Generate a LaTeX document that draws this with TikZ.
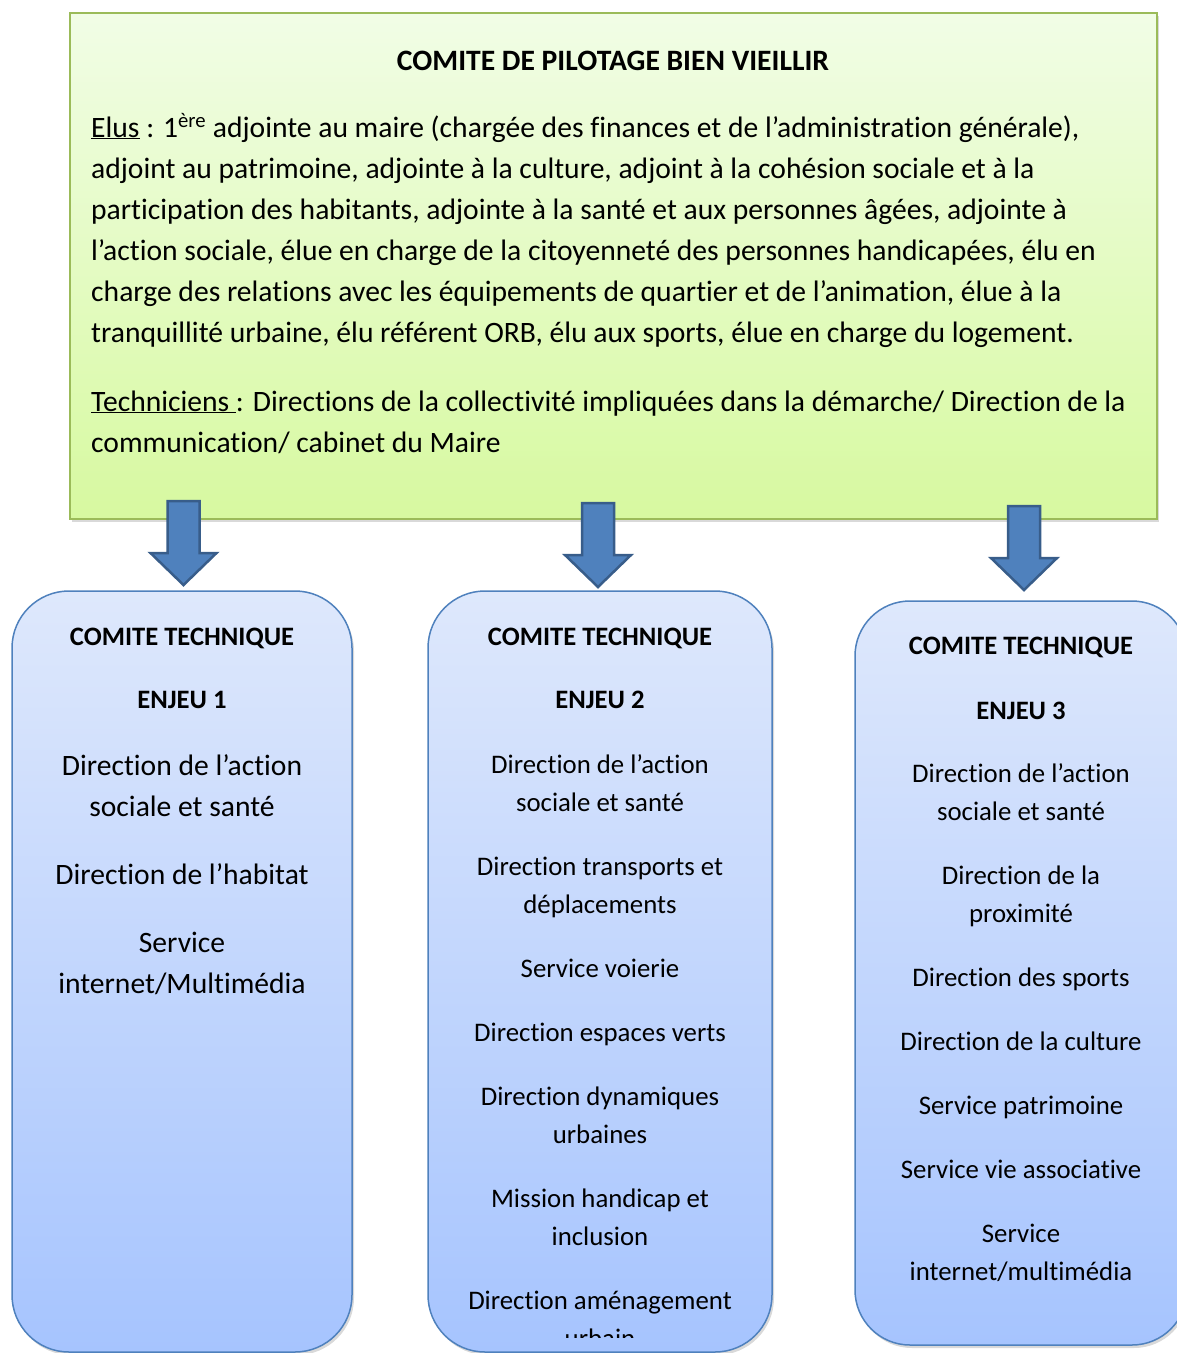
\documentclass[tikz,border=0pt]{standalone}
\usepackage{fontspec}
\setmainfont{Carlito}[Ligatures=NoCommon]
\usetikzlibrary{shadows}
\definecolor{pilottop}{HTML}{F1FDE6}
\definecolor{pilotbot}{HTML}{D7F9A0}
\definecolor{pilotline}{HTML}{9BBB59}
\definecolor{cttop}{HTML}{DEE8FC}
\definecolor{ctbot}{HTML}{A6C4FE}
\definecolor{ctline}{HTML}{4F81BD}
\definecolor{arrowfill}{HTML}{4F81BD}
\definecolor{arrowline}{HTML}{385D8A}
\begin{document}
\begin{tikzpicture}[x=1pt,y=-1pt,
  pilot/.style={draw=pilotline,line width=1.5pt,top color=pilottop,bottom color=pilotbot,
    drop shadow={shadow xshift=2pt,shadow yshift=-3pt,opacity=.3}},
  comite/.style={draw=ctline,line width=1.5pt,rounded corners=57pt,top color=cttop,bottom color=ctbot,
    drop shadow={shadow xshift=2pt,shadow yshift=-3pt,opacity=.3}},
  blockarrow/.style={fill=arrowfill,draw=arrowline,line width=2.5pt},
  gros/.style={font=\fontsize{29.6}{41}\selectfont,inner sep=0},
  moyen/.style={font=\fontsize{26.8}{38}\selectfont,inner sep=0},
  entete/.style={font=\fontsize{26.6}{63}\selectfont\bfseries,inner sep=0}]
\useasboundingbox (0,0) rectangle (1177,1353);
% comite de pilotage
\node[pilot,minimum width=1087pt,minimum height=506pt,inner sep=0] (pilot) at (613.5,266) {};
\node[font=\fontsize{29.6}{30}\selectfont\bfseries,anchor=base,inner sep=0] (titre) at (613,70) {COMITE DE PILOTAGE BIEN VIEILLIR};
\node[gros,align=left,anchor=base west] (elus) at (91,342) {\underline{Elus} : 1\textsuperscript{ère} adjointe au maire (chargée des finances et de l’administration générale),\\
adjoint au patrimoine, adjointe à la culture, adjoint à la cohésion sociale et à la\\
participation des habitants, adjointe à la santé et aux personnes âgées, adjointe à\\
l’action sociale, élue en charge de la citoyenneté des personnes handicapées, élu en\\
charge des relations avec les équipements de quartier et de l’animation, élue à la\\
tranquillité urbaine, élu référent ORB, élu aux sports, élue en charge du logement.};
\node[gros,align=left,anchor=base west] (tech) at (91,452) {\underline{Techniciens\ }: Directions de la collectivité impliquées dans la démarche/ Direction de la\\
communication/ cabinet du Maire};
% comites techniques
\node[comite,minimum width=340pt,minimum height=761pt] (ct1) at (182,971.5) {};
\node[comite,minimum width=344pt,minimum height=761pt] (ct2) at (600,971.5) {};
\node[comite,rounded corners=55pt,minimum width=332pt,minimum height=744pt] (ct3) at (1021,973) {};
% fleches
\coordinate (a1) at (183.5,501);
\coordinate (a2) at (598,503);
\coordinate (a3) at (1024,506);
\foreach \a in {a1,a2,a3}
  \draw[blockarrow] ([xshift=-16pt]\a) -- ++(32,0) -- ++(0,52) -- ++(17,0) -- ++(-33,32) -- ++(-33,-32) -- ++(17,0) -- cycle;
% enjeu 1
\node[entete,align=center,anchor=base] (t1) at (182,708) {COMITE TECHNIQUE\\ENJEU 1};
\node[gros,align=center,anchor=base] (l1) at (182,993) {Direction de l’action\\sociale et santé\\[27pt]Direction de l’habitat\\[27pt]Service\\internet/Multimédia};
% enjeu 2
\node[entete,align=center,anchor=base] (t2) at (600,708) {COMITE TECHNIQUE\\ENJEU 2};
\begin{scope}
\clip (428,591) rectangle (772,1337);
\node[moyen,align=center,anchor=base] (l2) at (600,1347) {Direction de l’action\\sociale et santé\\[26pt]Direction transports et\\déplacements\\[26pt]Service voierie\\[26pt]Direction espaces verts\\[26pt]Direction dynamiques\\urbaines\\[26pt]Mission handicap et\\inclusion\\[26pt]Direction aménagement\\urbain};
\end{scope}
% enjeu 3
\node[entete,align=center,anchor=base,font=\fontsize{26.6}{65}\selectfont\bfseries] (t3) at (1021,719) {COMITE TECHNIQUE\\ENJEU 3};
\node[moyen,align=center,anchor=base] (l3) at (1021,1280) {Direction de l’action\\sociale et santé\\[26pt]Direction de la\\proximité\\[26pt]Direction des sports\\[26pt]Direction de la culture\\[26pt]Service patrimoine\\[26pt]Service vie associative\\[26pt]Service\\internet/multimédia};
\end{tikzpicture}
\end{document}
